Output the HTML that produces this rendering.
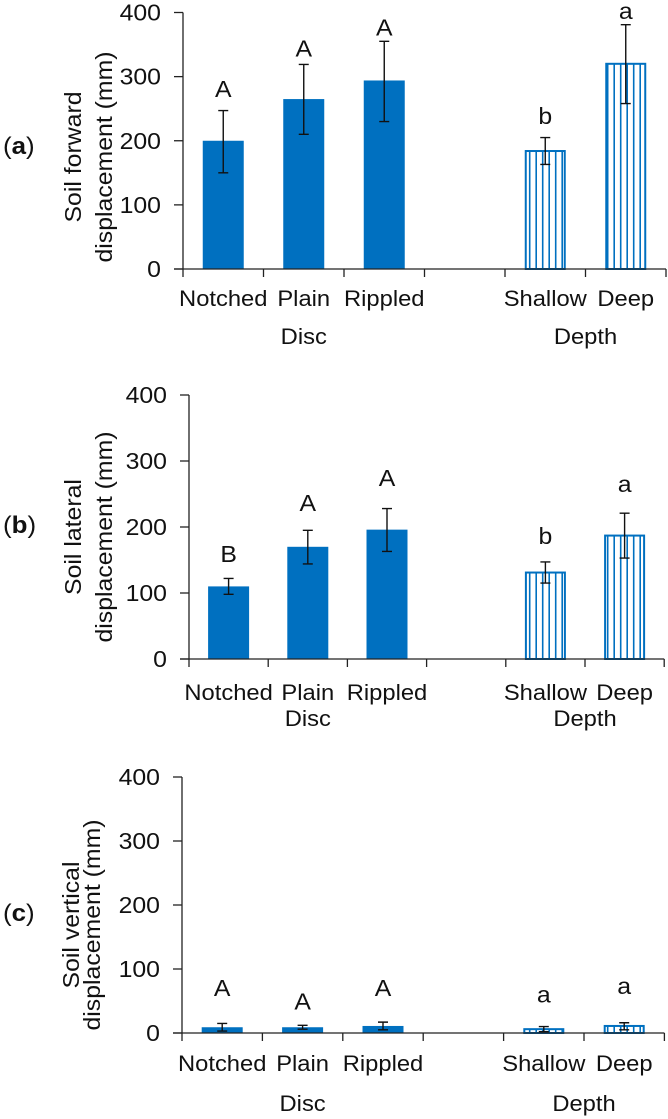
<!DOCTYPE html>
<html><head><meta charset="utf-8"><style>
html,body{margin:0;padding:0;background:#fff;}
svg{display:block;font-family:"Liberation Sans",Arial,sans-serif;}
</style></head><body>
<svg id="fig" width="668" height="1119" viewBox="0 0 668 1119" xmlns="http://www.w3.org/2000/svg">
<defs>
<pattern id="vhatch" patternUnits="userSpaceOnUse" width="6.5" height="10">
<rect width="6.5" height="10" fill="#fff"/><line x1="3.2" y1="0" x2="3.2" y2="10" stroke="#0070C0" stroke-width="1.6"/>
</pattern>
</defs>
</svg>
<script>
const categories = ["Notched","Plain","Rippled","","Shallow","Deep"];
const ticks = [0,100,200,300,400];
const groupLabels = ["Disc","Depth"];
const aMeans = [200,265,294,null,184,320];
const aLow = [150,210,230,null,163,258];
const aHigh = [247,319,355,null,205,381];
const aLetters = ["A","A","A","","b","a"];
const aLetterPos = [268,331,364,null,226,390];
const bMeans = [110,170,196,null,131,187];
const bLow = [98,144,163,null,115,153];
const bHigh = [122,195,228,null,147,221];
const bLetters = ["B","A","A","","b","a"];
const bLetterPos = [147,224,262,null,174,253];
const cMeans = [9,9,11,null,6,11];
const cLow = [3,6,5,null,2,5];
const cHigh = [15,12,17,null,10,16];
const cLetters = ["A","A","A","","a","a"];
const cLetterPos = [58,37,58,null,48,61];

const svg=document.getElementById('fig');
const NS="http://www.w3.org/2000/svg";
const SX=1.08;
function mk(tag,attrs,parent){const e=document.createElementNS(NS,tag);for(const k in attrs)e.setAttribute(k,attrs[k]);(parent||svg).appendChild(e);return e;}
function txt(parent,x,y,str,anchor,size,rot){
  const t=mk('text',{x:0,y:0,"text-anchor":anchor,"font-size":size,fill:"#111",
    transform:`translate(${x} ${y})${rot?' rotate(-90)':''} scale(${SX} 1)`},parent);
  t.textContent=str;
  return t;
}

const panels=[
 {id:"a",x0:183,slot:80.5,y0:269,y400:12.5,means:aMeans,low:aLow,high:aHigh,letters:aLetters,lpos:aLetterPos,
  title:["Soil forward","displacement (mm)"],tx:[81,112],ty:157,lab:146,catY:306,grpY:344},
 {id:"b",x0:189,slot:79.2,y0:659,y400:395,means:bMeans,low:bLow,high:bHigh,letters:bLetters,lpos:bLetterPos,
  title:["Soil lateral","displacement (mm)"],tx:[81,112],ty:537,lab:525,catY:700,grpY:726},
 {id:"c",x0:182,slot:80.4,y0:1033,y400:777,means:cMeans,low:cLow,high:cHigh,letters:cLetters,lpos:cLetterPos,
  title:["Soil vertical","displacement (mm)"],tx:[79,100],ty:925,lab:913,catY:1071,grpY:1111}
];
const blue="#0070C0";
panels.forEach(p=>{
  const g=mk('g',{});
  
  
  const yS=v=>p.y0-(p.y0-p.y400)*v/400;
  const xC=i=>p.x0+p.slot*(i+0.5);
  const xEnd=p.x0+p.slot*categories.length;
  const ya=mk('line',{x1:p.x0,y1:yS(400),x2:p.x0,y2:p.y0,stroke:"#222","stroke-width":1.3},g);
  
  
  ticks.forEach(t=>{
    mk('line',{x1:p.x0-9,y1:yS(t),x2:p.x0,y2:yS(t),stroke:"#222","stroke-width":1.3},g);
    const tl=txt(g,p.x0-22,yS(t)+8,String(t),"end",23,false);
    
    
  });
  categories.forEach((c,i)=>{
    if(p.means[i]==null)return;
    const w=41, x=xC(i)-w/2, top=yS(p.means[i]);
    const hatched=i>=4;
    const r=mk('rect',{x:hatched?x+1:x,y:top,width:hatched?w-2:w,height:p.y0-top,fill:hatched?"url(#vhatch)":blue,stroke:hatched?blue:"none","stroke-width":2},g);
    
    
    const cx=xC(i), yl=yS(p.low[i]), yh=yS(p.high[i]);
    const eb=mk('path',{d:`M${cx},${yl}V${yh}M${cx-5},${yl}H${cx+5}M${cx-5},${yh}H${cx+5}`,stroke:"#111","stroke-width":1.4,fill:"none"},g);
    
    
    const lt=txt(g,cx,yS(p.lpos[i]),p.letters[i],"middle",23,false);
    
    
    const cl=txt(g,cx,p.catY,c,"middle",22,false);
    
    
  });
  const xa=mk('line',{x1:p.x0-9,y1:p.y0,x2:xEnd,y2:p.y0,stroke:"#222","stroke-width":1.3},g);
  
  
  for(let k=0;k<=categories.length;k++){
    mk('line',{x1:p.x0+p.slot*k,y1:p.y0,x2:p.x0+p.slot*k,y2:p.y0+8,stroke:"#222","stroke-width":1.3},g);
  }
  const gx=[xC(1),(xC(4)+xC(5))/2];
  groupLabels.forEach((gl,j)=>{
    const t=txt(g,gx[j],p.grpY,gl,"middle",22,false);
    
    
  });
  p.title.forEach((tt,j)=>{
    const t=txt(g,p.tx[j],p.ty,tt,"middle",23,true);
    
    
  });
  const pl=mk('text',{x:0,y:0,"font-size":24,fill:"#111",transform:`translate(3 ${p.lab+8}) scale(${SX} 1)`},g);
  pl.innerHTML='(<tspan font-weight="bold">'+p.id+'</tspan>)';
  
  
});
</script>
</body></html>
